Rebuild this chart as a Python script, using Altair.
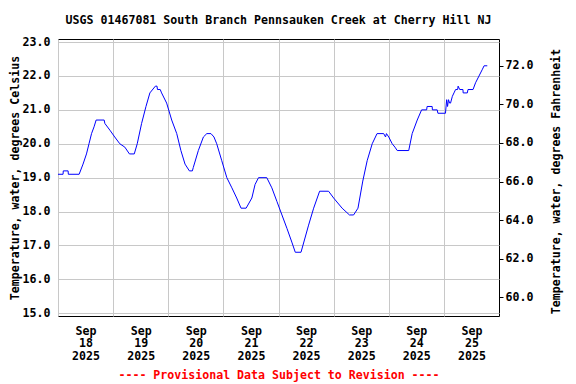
import altair as alt
import pandas as pd

# Hours after 2025-09-18 00:00 and water temperature (deg C)
hours = [0.0, 2.2, 2.3, 4.4, 4.5, 9.2, 10.9, 12.4, 13.5, 14.6, 15.7, 16.6, 20.1,
         20.4, 22.6, 24.7, 26.9, 29.1, 31.1, 33.2, 34.5, 36.4, 38.3, 40.0, 42.4,
         43.1, 43.3, 44.5, 45.1, 47.3, 49.5, 51.7, 53.5, 55.3, 57.2, 58.5, 58.9,
         61.1, 63.3, 64.8, 66.6, 67.9, 69.1, 71.3, 73.5, 75.7, 77.8, 79.7, 81.9,
         84.4, 85.8, 87.3, 90.9, 93.1, 95.3, 97.5, 99.7, 101.8, 103.3, 105.8,
         109.1, 111.3, 113.9, 117.8, 120.0, 123.7, 126.9, 128.7, 130.6, 132.7,
         134.6, 136.8, 138.9, 141.8, 142.6, 143.0, 144.0, 145.5, 146.7, 147.7,
         152.7, 154.2, 156.4, 158.3, 160.5, 160.7, 162.9, 163.0, 165.1, 165.4,
         168.7, 169.2, 169.6, 170.0, 170.5, 170.9, 171.7, 172.4, 173.1, 174.0,
         174.2, 174.9, 176.3, 176.4, 178.2, 178.5, 180.7, 181.8, 183.3, 184.8,
         185.5, 186.9]
temps_c = [19.1, 19.1, 19.2, 19.2, 19.1, 19.1, 19.4, 19.7, 20.0, 20.3, 20.5, 20.7, 20.7,
           20.6, 20.4, 20.2, 20.0, 19.9, 19.7, 19.7, 20.0, 20.6, 21.1, 21.5, 21.7,
           21.7, 21.6, 21.6, 21.5, 21.2, 20.7, 20.3, 19.8, 19.4, 19.2, 19.2, 19.3,
           19.8, 20.2, 20.3, 20.3, 20.2, 20.0, 19.5, 19.0, 18.7, 18.4, 18.1, 18.1,
           18.4, 18.8, 19.0, 19.0, 18.7, 18.3, 17.9, 17.5, 17.1, 16.8, 16.8,
           17.6, 18.1, 18.6, 18.6, 18.4, 18.1, 17.9, 17.9, 18.1, 18.9,
           19.5, 20.0, 20.3, 20.3, 20.2, 20.3, 20.2, 20.0, 19.9, 19.8,
           19.8, 20.3, 20.7, 21.0, 21.0, 21.1, 21.1, 21.0, 21.0, 20.9,
           20.9, 21.3, 21.1, 21.3, 21.2, 21.2, 21.4, 21.5, 21.6, 21.6,
           21.7, 21.6, 21.6, 21.5, 21.5, 21.6, 21.6, 21.8, 22.0, 22.2,
           22.3, 22.3]

celsius_ticks = [15, 16, 17, 18, 19, 20, 21, 22, 23]
fahrenheit_ticks = [60, 62, 64, 66, 68, 70, 72]
days = [18, 19, 20, 21, 22, 23, 24, 25]

start = pd.Timestamp("2025-09-18 00:00")
df = pd.DataFrame({
    "time": start + pd.to_timedelta(hours, unit="h"),
    "temp_c": temps_c,
})
df["temp_f"] = df["temp_c"] * 1.8 + 32

FONT = "DejaVu Sans Mono"
FS = 11.6
W, H = 441, 277

x_domain = [alt.DateTime(year=2025, month=9, date=18),
            alt.DateTime(year=2025, month=9, date=26)]
day_values = [alt.DateTime(year=2025, month=9, date=d) for d in days]

x_axis = alt.Axis(
    orient="bottom", values=day_values, grid=True, gridColor="#c8c8c8", gridWidth=1,
    ticks=False, tickSize=0, domain=False,
    labelExpr="[timeFormat(datum.value, '%b'), timeFormat(datum.value, '%d'), timeFormat(datum.value, '%Y')]",
    labelOffset=W / 16, labelAlign="center", labelBaseline="top", labelPadding=9,
    labelLineHeight=12.5, labelFont=FONT, labelFontSize=FS, labelFontWeight="bold",
    labelColor="black", labelFlush=False, labelOverlap=False,
    title="---- Provisional Data Subject to Revision ----",
    titleColor="#ff0000", titleFont=FONT, titleFontSize=FS, titleFontWeight="bold",
    titleX=W / 2, titleY=62.5, titleAlign="center", titleBaseline="alphabetic",
)

x_enc = alt.X("time:T", scale=alt.Scale(domain=x_domain), axis=x_axis)

line = alt.Chart(df).mark_line(color="#0000ff", strokeWidth=1).encode(
    x=x_enc,
    y=alt.Y("temp_c:Q",
            scale=alt.Scale(domain=[14.92, 23.09], nice=False, zero=False),
            axis=alt.Axis(orient="left", values=celsius_ticks, format=".1f",
                          grid=True, gridColor="#c8c8c8", gridWidth=1,
                          ticks=False, tickSize=0, domain=False, labelPadding=8,
                          labelFont=FONT, labelFontSize=FS, labelFontWeight="bold",
                          labelColor="black",
                          title="Temperature, water, degrees Celsius",
                          titleFont=FONT, titleFontSize=FS, titleFontWeight="bold",
                          titleColor="black", titleAngle=270, titleX=-43, titleY=H / 2,
                          titleAlign="center", titleBaseline="middle")),
)

fahr = alt.Chart(df).mark_line(strokeOpacity=0).encode(
    x=x_enc,
    y=alt.Y("temp_f:Q",
            scale=alt.Scale(domain=[59.03, 73.385], nice=False, zero=False),
            axis=alt.Axis(orient="right", values=fahrenheit_ticks, format=".1f",
                          grid=False, ticks=True, tickSize=4, tickColor="black",
                          tickWidth=1, domain=False, labelPadding=2,
                          labelFont=FONT, labelFontSize=FS, labelFontWeight="bold",
                          labelColor="black",
                          title="Temperature, water, degrees Fahrenheit",
                          titleFont=FONT, titleFontSize=FS, titleFontWeight="bold",
                          titleColor="black", titleAngle=270, titleX=57, titleY=142,
                          titleAlign="center", titleBaseline="middle")),
)

chart = alt.layer(line, fahr).resolve_scale(y="independent").properties(
    width=W, height=H,
    autosize=alt.AutoSizeParams(type="none"),
    padding={"left": 50, "top": 31, "right": 69, "bottom": 68},
    title=alt.TitleParams(
        text="USGS 01467081 South Branch Pennsauken Creek at Cherry Hill NJ",
        font=FONT, fontSize=FS, fontWeight="bold", color="black",
        anchor="middle", frame="group", offset=9),
).configure_view(stroke="black", strokeWidth=1)

chart.save("out.html", embed_options={"renderer": "svg", "actions": False})
